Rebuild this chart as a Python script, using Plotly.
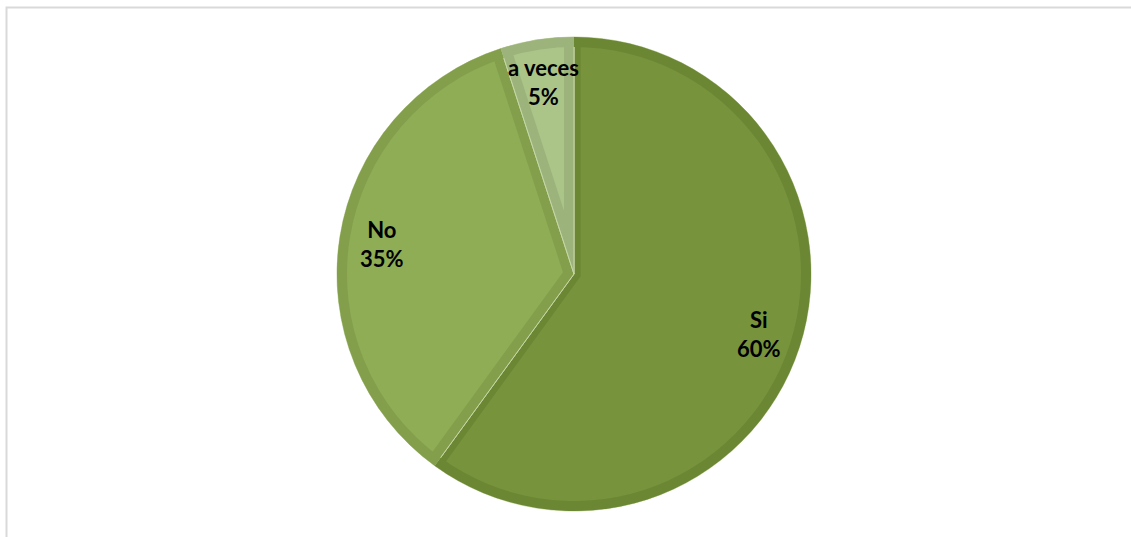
import math
import plotly.graph_objects as go

# Survey answers and their shares (%)
labels = ["Si", "No", "a veces"]
values = [60, 35, 5]

fill_colors = ["#77933C", "#8FAD55", "#ABC588"]
edge_colors = ["#6C8734", "#839F4C", "#9CB47C"]

W, H = 1131, 537
CX, CY, R = 574, 274, 237   # pie centre and radius in pixels
BAND = 10                   # width of the darker bevel inside each slice

fig = go.Figure()


def px_domain(cx, cy, half):
    return dict(x=[(cx - half) / W, (cx + half) / W],
                y=[1 - (cy + half) / H, 1 - (cy - half) / H])


common = dict(labels=labels, values=values, sort=False, direction="clockwise",
              rotation=0, textinfo="none", showlegend=False)

# Outer pie: darker bevel colour for every slice
fig.add_trace(go.Pie(
    **common,
    marker=dict(colors=edge_colors, line=dict(color="#C6D6A6", width=1)),
    hoverinfo="label+percent", domain=px_domain(CX, CY, R),
))

# Inner faces: one pie per slice, pulled along its bisector so the bevel
# also runs along the straight edges
total = sum(values)
for i, v in enumerate(values):
    half_angle = math.pi * v / total
    s = min(BAND / math.sin(half_angle), 7.0 if half_angle > math.pi / 2 else 1e9)
    r = R - s - 0.5
    pull = s / r
    colors = ["rgba(0,0,0,0)"] * len(values)
    colors[i] = fill_colors[i]
    pulls = [0] * len(values)
    pulls[i] = pull
    fig.add_trace(go.Pie(
        **common,
        marker=dict(colors=colors, line=dict(width=0)), pull=pulls,
        hoverinfo="skip", domain=px_domain(CX, CY, r * (1 + pull)),
    ))

# Bevel ring along the outer rim
fig.add_trace(go.Pie(
    **common, hole=(R - BAND) / R,
    marker=dict(colors=edge_colors, line=dict(width=0)),
    hoverinfo="skip", domain=px_domain(CX, CY, R),
))

# Data labels placed along each slice bisector
annotations = []
start = 0.0
for lab, v in zip(labels, values):
    mid = (start + v / 2) / total * 2 * math.pi
    start += v
    dist = 0.82 * R
    x = CX + dist * math.sin(mid)
    y = CY - dist * math.cos(mid)
    annotations.append(dict(
        x=x / W, y=1 - y / H, xref="paper", yref="paper", showarrow=False,
        text=f"<b>{lab}<br>{round(v / total * 100)}%</b>",
        font=dict(family="Lato", size=22, color="#000000"),
        xanchor="center", yanchor="middle",
    ))

fig.update_layout(
    width=W, height=H, margin=dict(l=0, r=0, t=0, b=0),
    paper_bgcolor="#FFFFFF", plot_bgcolor="#FFFFFF",
    annotations=annotations,
    shapes=[dict(type="rect", xref="paper", yref="paper",
                 x0=6.5 / W, x1=1.02, y0=-0.02, y1=1 - 7.5 / H,
                 line=dict(color="#D9D9D9", width=2), fillcolor="rgba(0,0,0,0)",
                 layer="below")],
)

fig.write_html("out.html")
